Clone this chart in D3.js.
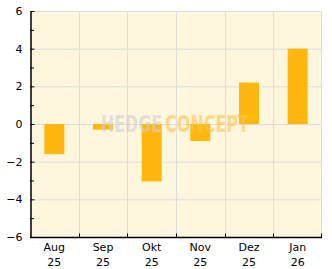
<!DOCTYPE html>
<html><head><meta charset="utf-8">
<script src="https://cdn.jsdelivr.net/npm/d3@7/dist/d3.min.js"></script>
<style>body{margin:0;background:#fff}svg{display:block}</style>
</head><body>
<script>
const months = ["Aug", "Sep", "Okt", "Nov", "Dez", "Jan"];
const years = ["25", "25", "25", "25", "25", "26"];
const values = [-1.6, -0.3, -3.05, -0.9, 2.2, 4.0];
const yTicks = [-6, -4, -2, 0, 2, 4, 6];
const yMinor = [-5, -3, -1, 1, 3, 5];

const W = 332, H = 269;
const m = {left: 30, right: 10, top: 11, bottom: 32};
const svg = d3.select("body").append("svg").attr("width", W).attr("height", H);
const x = d3.scaleBand().domain(months).range([m.left, W - m.right]).paddingInner(0.59).paddingOuter(0.295);
const xg = d3.scaleBand().domain(months).range([m.left, W - m.right]);
const y = d3.scaleLinear().domain([-6, 6]).range([H - m.bottom, m.top]);
const font = "DejaVu Sans, sans-serif";

svg.append("rect").attr("x", m.left).attr("y", m.top).attr("width", W - m.right - m.left).attr("height", H - m.bottom - m.top).attr("fill", "#fff6de");

// grid
svg.append("g").selectAll("line").data(yTicks.slice(1, -1)).join("line")
  .attr("x1", m.left).attr("x2", W - m.right).attr("y1", d => y(d) + 0.5).attr("y2", d => y(d) + 0.5)
  .attr("stroke", "#dddddd");
svg.append("g").selectAll("line").data(months.slice(1)).join("line")
  .attr("x1", d => Math.round(xg(d)) + 0.5).attr("x2", d => Math.round(xg(d)) + 0.5).attr("y1", m.top).attr("y2", H - m.bottom)
  .attr("stroke", "#dddddd");
// top/right border
svg.append("path").attr("d", `M${m.left},${m.top + 0.5}H${W - m.right - 0.5}V${H - m.bottom}`).attr("fill", "none").attr("stroke", "#dddddd");

// bars
svg.append("g").selectAll("rect").data(values).join("rect")
  .attr("x", (d, i) => x(months[i])).attr("width", x.bandwidth())
  .attr("y", d => y(Math.max(0, d))).attr("height", d => Math.abs(y(d) - y(0)))
  .attr("fill", "#ffb70d");

// watermark (two words, each squeezed horizontally to fit its span), drawn over bars
const wmFont = "DejaVu Sans Condensed, DejaVu Sans, sans-serif";
function wmWord(txt, x0, width, fill, op) {
  const g = svg.append("g");
  const t = g.append("text").attr("x", 0).attr("y", 0).text(txt)
    .attr("font-family", wmFont).attr("font-weight", "bold").attr("font-size", 23)
    .attr("fill", fill).attr("fill-opacity", op);
  const nat = t.node().getComputedTextLength();
  g.attr("transform", `translate(${x0},132) scale(${width / nat},1)`);
}
wmWord("HEDGE", 101, 61, "#cfcfcf", 0.6);
wmWord("CONCEPT", 165, 84, "#ffc44d", 0.65);

// y axis
const ya = svg.append("g").attr("transform", `translate(${m.left + 0.5},0)`)
  .call(d3.axisLeft(y).tickValues(yTicks).tickSizeInner(-4).tickSizeOuter(0).tickPadding(8).tickFormat(d => d < 0 ? "\u2212" + Math.abs(d) : d));
ya.selectAll("text").attr("font-family", font).attr("font-size", 11).attr("fill", "#000");
ya.select(".domain").attr("stroke", "#000").attr("stroke-width", 1.5);
ya.selectAll(".tick line").attr("stroke", "#000");
svg.append("g").selectAll("line").data(yMinor).join("line")
  .attr("x1", m.left).attr("x2", m.left + 4).attr("y1", d => y(d) + 0.5).attr("y2", d => y(d) + 0.5).attr("stroke", "#000");

// x axis
const xa = svg.append("g").attr("transform", `translate(0,${H - m.bottom + 0.5})`);
xa.append("line").attr("x1", m.left).attr("x2", W - m.right).attr("stroke", "#000").attr("stroke-width", 1.5);
xa.selectAll(".tk").data(months.slice(1)).join("line").attr("class", "tk")
  .attr("x1", d => Math.round(xg(d)) + 0.5).attr("x2", d => Math.round(xg(d)) + 0.5).attr("y1", 0).attr("y2", -4).attr("stroke", "#000");
xa.append("line").attr("x1", W - m.right - 0.5).attr("x2", W - m.right - 0.5).attr("y1", 0).attr("y2", -4).attr("stroke", "#000");
const lab = xa.selectAll(".lb").data(months).join("text").attr("class", "lb")
  .attr("x", d => xg(d) + xg.bandwidth() / 2).attr("text-anchor", "middle")
  .attr("font-family", font).attr("font-size", 11).attr("fill", "#000");
lab.append("tspan").attr("x", d => xg(d) + xg.bandwidth() / 2).attr("y", 13).text(d => d);
lab.append("tspan").attr("x", d => xg(d) + xg.bandwidth() / 2).attr("y", 28).text((d, i) => years[i]);
</script>
</body></html>
